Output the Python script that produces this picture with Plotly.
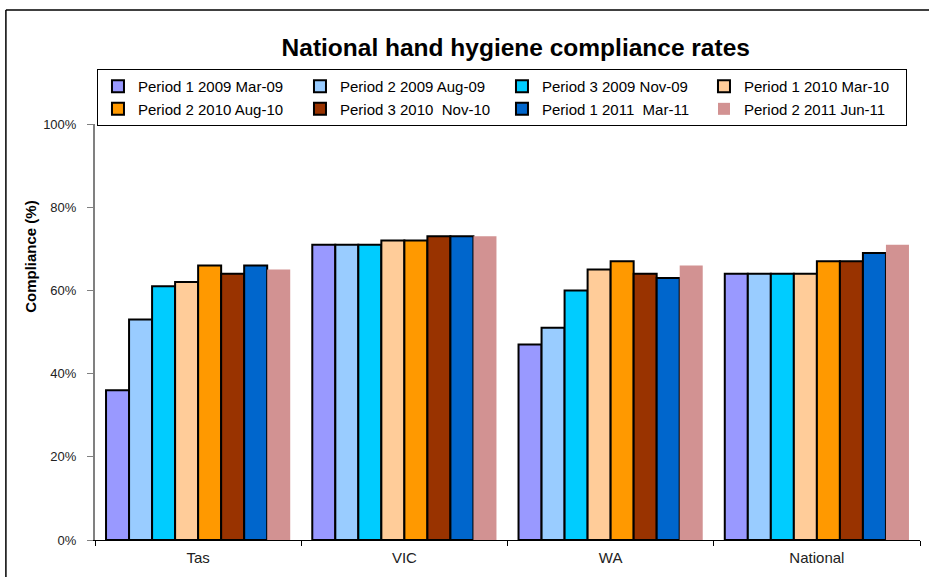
import plotly.graph_objects as go

categories = ["Tas", "VIC", "WA", "National"]

series_names = [
    "Period 1 2009 Mar-09",
    "Period 2 2009 Aug-09",
    "Period 3 2009 Nov-09",
    "Period 1 2010 Mar-10",
    "Period 2 2010 Aug-10",
    "Period 3 2010 \u00a0Nov-10",
    "Period 1 2011 \u00a0Mar-11",
    "Period 2 2011 Jun-11",
]

p1_2009 = [0.36, 0.71, 0.47, 0.64]
p2_2009 = [0.53, 0.71, 0.51, 0.64]
p3_2009 = [0.61, 0.71, 0.60, 0.64]
p1_2010 = [0.62, 0.72, 0.65, 0.64]
p2_2010 = [0.66, 0.72, 0.67, 0.67]
p3_2010 = [0.64, 0.73, 0.64, 0.67]
p1_2011 = [0.66, 0.73, 0.63, 0.69]
p2_2011 = [0.65, 0.73, 0.66, 0.71]

series_values = [p1_2009, p2_2009, p3_2009, p1_2010, p2_2010, p3_2010, p1_2011, p2_2011]

colors = ["#9999FF", "#99CCFF", "#00CCFF", "#FFCC99", "#FF9900", "#993300", "#0066CC", "#D29292"]
outline = [2, 2, 2, 2, 2, 2, 2, 0]

y_ticks = [0, 0.2, 0.4, 0.6, 0.8, 1.0]
y_ticktext = ["0%", "20%", "40%", "60%", "80%", "100%"]

FONT = "Liberation Sans, Arial, sans-serif"

fig = go.Figure()
for name, vals, c, lw in zip(series_names, series_values, colors, outline):
    fig.add_trace(go.Bar(
        x=categories, y=vals, name=name,
        marker=dict(color=c, line=dict(color="black", width=lw)),
    ))

fig.update_layout(
    width=929, height=577,
    margin=dict(l=95, r=9, t=124, b=37),
    paper_bgcolor="white", plot_bgcolor="white",
    barmode="group", bargap=0.107, bargroupgap=0,
    font=dict(family=FONT, color="black"),
    title=dict(
        text="<b>National hand hygiene compliance rates</b>",
        font=dict(family=FONT, size=24.5, color="black"),
        x=0.51, xref="paper", xanchor="center",
        y=0.9185, yref="container", yanchor="middle",
    ),
    legend=dict(
        orientation="h",
        x=0.0024, xanchor="left",
        y=1.132, yanchor="top",
        bordercolor="black", borderwidth=1,
        font=dict(family=FONT, size=15, color="black"),
        entrywidth=157, entrywidthmode="pixels",
        itemwidth=30,
        traceorder="normal",
    ),
    showlegend=True,
)

fig.update_xaxes(
    type="category",
    showline=True, linecolor="black", linewidth=1,
    ticks="outside", tickson="boundaries", ticklen=5, tickcolor="black",
    tickfont=dict(family=FONT, size=15, color="#222222"),
    ticklabelstandoff=4,
    showgrid=False, zeroline=False,
)

fig.update_yaxes(
    range=[0, 1],
    tickvals=y_ticks, ticktext=y_ticktext,
    showline=True, linecolor="#808080", linewidth=2,
    ticks="outside", ticklen=6, tickcolor="#808080", tickwidth=1,
    tickfont=dict(family=FONT, size=13, color="#222222"),
    ticklabelstandoff=8,
    showgrid=False, zeroline=False,
)

# y-axis title (placed off-centre as in the reference)
fig.add_annotation(
    text="<b>Compliance (%)</b>", textangle=-90, showarrow=False,
    xref="paper", yref="paper", x=-0.0776, y=0.683,
    xanchor="center", yanchor="middle",
    font=dict(family=FONT, size=15, color="black"),
)

# chart-area border (left and top edges visible in reference)
fig.add_shape(type="line", xref="paper", yref="paper",
              x0=-0.108, x1=-0.108, y0=-0.2, y1=1.274,
              line=dict(color="black", width=1.5))
fig.add_shape(type="line", xref="paper", yref="paper",
              x0=-0.108, x1=1.02, y0=1.274, y1=1.274,
              line=dict(color="black", width=1.5))

fig.write_html("out.html", config={"displayModeBar": False},
               post_script="document.body.style.margin='0px';")
